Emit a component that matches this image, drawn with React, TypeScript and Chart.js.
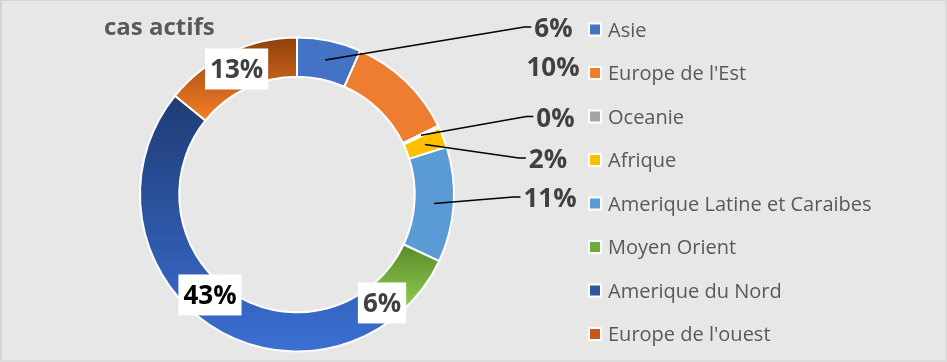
import React, { useEffect, useRef } from "react";
import { Chart, registerables } from "chart.js";

Chart.register(...registerables);

// ---------- data ----------
const title = "cas actifs";
const categories = [
  "Asie",
  "Europe de l'Est",
  "Oceanie",
  "Afrique",
  "Amerique Latine et Caraibes",
  "Moyen Orient",
  "Amerique du Nord",
  "Europe de l'ouest",
];
const values = [6.0, 10.2, 0.2, 1.9, 10.8, 6.0, 43.0, 12.9];

// ---------- styles ----------
const flatColors = ["#4472C4", "#ED7D31", "#A5A5A5", "#FFC000", "#5B9BD5", "#70AD47", "#2F5597", "#C55A11"];
const gradientStops: Record<number, [string, string]> = {
  5: ["#5A8A2B", "#94D251"],
  6: ["#1F3C74", "#3B6FD3"],
  7: ["#8F400C", "#F57E27"],
};
const legendColors = ["#4472C4", "#ED7D31", "#A5A5A5", "#FFC000", "#5B9BD5", "#6CAA3E", "#2F55A0", "#C8581A"];

const OUTER_R = 157;
const CUTOUT = 0.75;
const FONT = "'Open Sans', 'DejaVu Sans', sans-serif";

// label placement (layout only)
const outsideLabels = [
  { i: 0, x: 553.5, y: 28, line: true },
  { i: 1, x: 553, y: 66.5, line: false },
  { i: 2, x: 555.5, y: 117.5, line: true },
  { i: 3, x: 548, y: 159, line: true },
  { i: 4, x: 550, y: 198, line: true },
];
const boxedLabels = [
  { i: 5, deg: 141.9, r: 137.8, color: "#404040" },
  { i: 6, deg: 220.9, r: 132.9, color: "#000000" },
  { i: 7, deg: 334.3, r: 139.3, color: "#404040" },
];
const legendLayout = { markerX: 588, textX: 608, firstY: 29.5, step: 43.5 };

function segmentYBounds(chart: any, idx: number) {
  const area = chart.chartArea;
  const cy = (area.top + area.bottom) / 2;
  const total = values.reduce((a, b) => a + b, 0);
  let start = -Math.PI / 2;
  for (let j = 0; j < idx; j++) start += (values[j] / total) * Math.PI * 2;
  const end = start + (values[idx] / total) * Math.PI * 2;
  let minY = Infinity;
  let maxY = -Infinity;
  const radii = [OUTER_R, OUTER_R * CUTOUT];
  for (let k = 0; k <= 80; k++) {
    const a = start + ((end - start) * k) / 80;
    for (const r of radii) {
      const y = cy + r * Math.sin(a);
      if (y < minY) minY = y;
      if (y > maxY) maxY = y;
    }
  }
  return [minY, maxY];
}

function bgColor(ctx: any) {
  const idx = ctx.dataIndex;
  const stops = gradientStops[idx];
  if (!stops) return flatColors[idx];
  const chart = ctx.chart;
  if (!chart.chartArea) return flatColors[idx];
  const [y0, y1] = segmentYBounds(chart, idx);
  const g = chart.ctx.createLinearGradient(0, y0, 0, y1);
  g.addColorStop(0, stops[0]);
  g.addColorStop(1, stops[1]);
  return g;
}

const pct = (v: number) => Math.round(v) + "%";

const decorPlugin = {
  id: "decor",
  beforeDraw(chart: any) {
    const c = chart.ctx;
    const W = chart.width;
    const H = chart.height;
    c.save();
    c.fillStyle = "#E7E7E7";
    c.fillRect(0, 0, W, H);
    c.fillStyle = "#D4D4D4";
    c.fillRect(0, 0, W, 1);
    c.fillRect(0, 0, 2, H);
    c.fillStyle = "#DCDCDC";
    c.fillRect(0, H - 2, W, 2);
    c.fillRect(W - 2, 0, 2, H);
    c.restore();
  },
  afterDatasetsDraw(chart: any) {
    const c = chart.ctx;
    const meta = chart.getDatasetMeta(0);
    c.save();

    // title
    c.font = `bold 24px ${FONT}`;
    c.fillStyle = "#595959";
    c.textAlign = "left";
    c.textBaseline = "alphabetic";
    c.fillText(title, 104, 35);

    // outside labels with leader lines
    const lblSize = 26;
    c.font = `bold ${lblSize}px ${FONT}`;
    for (const L of outsideLabels) {
      const txt = pct(values[L.i]);
      const w = c.measureText(txt).width;
      const left = L.x - w / 2;
      if (L.line) {
        const el = meta.data[L.i];
        const p = el.getProps(["x", "y", "startAngle", "endAngle", "innerRadius", "outerRadius"], true);
        const mid = (p.startAngle + p.endAngle) / 2;
        const rr = (p.innerRadius + p.outerRadius) / 2;
        const sx = p.x + rr * Math.cos(mid);
        const sy = p.y + rr * Math.sin(mid);
        const ly = L.y - 1;
        c.beginPath();
        c.strokeStyle = "#000000";
        c.lineWidth = 1.5;
        c.moveTo(sx, sy);
        c.lineTo(left - 10, ly);
        c.lineTo(left - 3, ly);
        c.stroke();
      }
      c.fillStyle = "#404040";
      c.textAlign = "left";
      c.fillText(txt, left, L.y + 0.357 * lblSize);
    }

    // boxed labels
    for (const B of boxedLabels) {
      const el = meta.data[B.i];
      const p = el.getProps(["x", "y"], true);
      const a = (B.deg * Math.PI) / 180;
      const cx = p.x + B.r * Math.sin(a);
      const cy = p.y - B.r * Math.cos(a);
      const txt = pct(values[B.i]);
      const w = c.measureText(txt).width;
      const bw = w + 10;
      const bh = 41;
      c.fillStyle = "#FFFFFF";
      c.fillRect(cx - bw / 2, cy - bh / 2, bw, bh);
      c.fillStyle = B.color;
      c.textAlign = "center";
      c.fillText(txt, cx, cy + 0.357 * lblSize);
    }

    // legend
    const legSize = 20;
    c.font = `${legSize}px ${FONT}`;
    c.textAlign = "left";
    categories.forEach((name, i) => {
      const y = legendLayout.firstY + i * legendLayout.step;
      c.fillStyle = "#FFFFFF";
      c.fillRect(legendLayout.markerX, y - 7, 14, 14);
      c.fillStyle = legendColors[i];
      c.fillRect(legendLayout.markerX + 2, y - 5, 10, 10);
      c.fillStyle = "#595959";
      c.fillText(name, legendLayout.textX, y + 0.357 * legSize);
    });

    c.restore();
  },
};

export default function App() {
  const ref = useRef<HTMLCanvasElement | null>(null);
  useEffect(() => {
    document.body.style.margin = "0";
    if (!ref.current) return;
    const chart = new Chart(ref.current, {
      type: "doughnut",
      data: {
        labels: categories,
        datasets: [
          {
            data: values,
            backgroundColor: bgColor as any,
            borderColor: "#FFFFFF",
            borderWidth: 2,
          },
        ],
      },
      options: {
        responsive: false,
        devicePixelRatio: 1,
        animation: false,
        radius: OUTER_R,
        cutout: CUTOUT * 100 + "%",
        layout: { padding: { left: 137, right: 490, top: 35, bottom: 8 } },
        plugins: {
          legend: { display: false },
          tooltip: { enabled: false },
          title: { display: false },
        },
      } as any,
      plugins: [decorPlugin],
    });
    return () => chart.destroy();
  }, []);
  return (
    <div style={{ width: 947, height: 362 }}>
      <canvas ref={ref} width={947} height={362} style={{ display: "block" }} />
    </div>
  );
}
